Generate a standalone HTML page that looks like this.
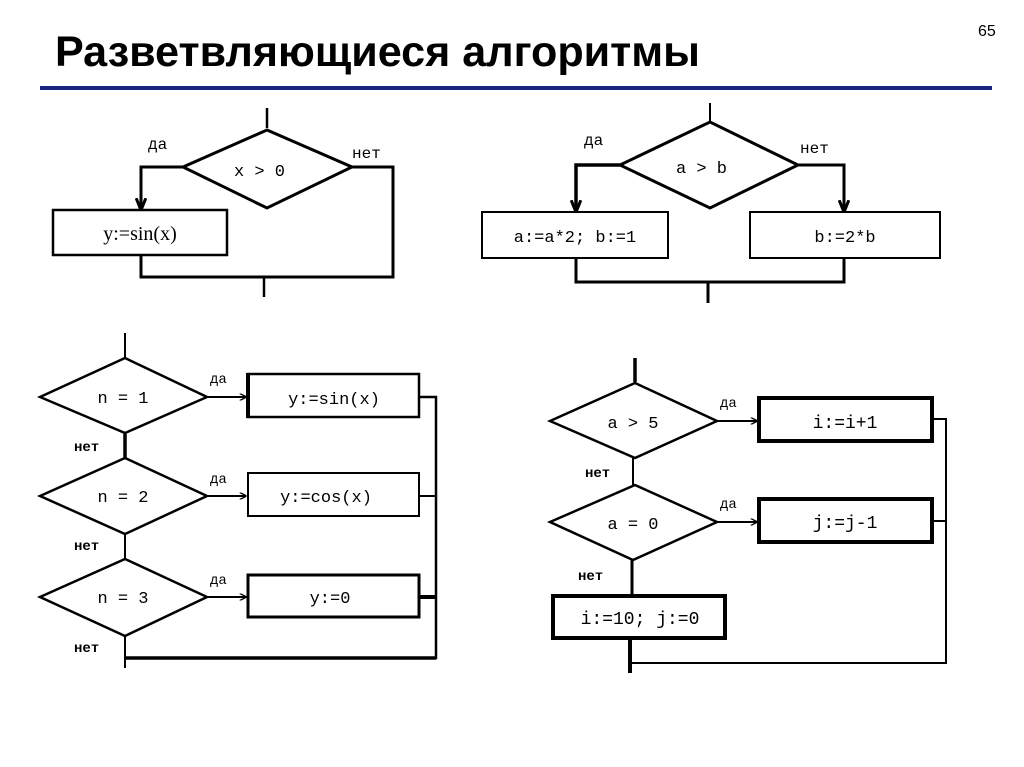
<!DOCTYPE html>
<html><head><meta charset="utf-8"><style>
html,body{margin:0;padding:0;background:#fff;}
svg{display:block;}
text{font-family:"Liberation Mono",monospace;fill:#000;}
</style></head><body>
<svg width="1024" height="767" viewBox="0 0 1024 767" xmlns="http://www.w3.org/2000/svg">
<defs>
<marker id="ar" viewBox="0 0 10 10" refX="9" refY="5" markerWidth="7" markerHeight="7" orient="auto" markerUnits="userSpaceOnUse">
<path d="M0,0 L10,5 L0,10" fill="none" stroke="#000" stroke-width="2"/>
</marker>
<marker id="ar2" viewBox="0 0 10 10" refX="9" refY="5" markerWidth="12" markerHeight="12" orient="auto" markerUnits="userSpaceOnUse">
<path d="M0,1 L10,5 L0,9" fill="none" stroke="#000" stroke-width="2.5"/>
</marker>
</defs>
<g transform="translate(55,66) scale(1,1.25)">
<text x="0" y="0" style="font-family:'Liberation Sans',sans-serif;font-weight:bold;font-size:34px" textLength="645" lengthAdjust="spacingAndGlyphs">Разветвляющиеся  алгоритмы</text>
</g>
<text x="978" y="36" style="font-family:'Liberation Sans',sans-serif;font-size:16px">65</text>
<rect x="40" y="86" width="952" height="4" fill="#1a237e"/>

<g stroke="#000" fill="none" stroke-width="2.5">
<line x1="267" y1="108" x2="267" y2="128"/>
<polygon points="183,167 267,130 352,167 267,208" stroke-width="3"/>
<polyline points="183,167 141,167 141,209" stroke-width="3" marker-end="url(#ar2)"/>
<rect x="53" y="210" width="174" height="45"/>
<polyline points="352,167 393,167 393,277 141,277 141,255" stroke-width="3"/>
<line x1="264" y1="277" x2="264" y2="297"/>

<line x1="710" y1="103" x2="710" y2="122" stroke-width="2"/>
<polygon points="620,165 710,122 798,165 710,208" stroke-width="3"/>
<polyline points="620,165 576,165 576,211" stroke-width="3.5" marker-end="url(#ar2)"/>
<polyline points="798,165 844,165 844,211" stroke-width="3" marker-end="url(#ar2)"/>
<rect x="482" y="212" width="186" height="46" stroke-width="2"/>
<rect x="750" y="212" width="190" height="46" stroke-width="2"/>
<polyline points="576,258 576,282 844,282 844,258" stroke-width="3"/>
<line x1="708" y1="282" x2="708" y2="303" stroke-width="3"/>

<line x1="125" y1="333" x2="125" y2="358" stroke-width="2"/>
<polygon points="40,397 125,358 207,397 125,433" stroke-width="2.5"/>
<line x1="125" y1="433" x2="125" y2="458" stroke-width="3.5"/>
<polygon points="40,496 125,458 207,496 125,534" stroke-width="2.5"/>
<line x1="125" y1="534" x2="125" y2="559" stroke-width="2"/>
<polygon points="40,597 125,559 207,597 125,636" stroke-width="2.5"/>
<line x1="125" y1="636" x2="125" y2="668" stroke-width="2"/>
<line x1="207" y1="397" x2="246" y2="397" stroke-width="2" marker-end="url(#ar)"/>
<line x1="207" y1="496" x2="246" y2="496" stroke-width="2" marker-end="url(#ar)"/>
<line x1="207" y1="597" x2="246" y2="597" stroke-width="2" marker-end="url(#ar)"/>
<rect x="248" y="374" width="171" height="43" stroke-width="2.5"/>
<line x1="248" y1="373" x2="248" y2="418" stroke-width="4"/>
<rect x="248" y="473" width="171" height="43" stroke-width="2"/>
<rect x="248" y="575" width="171" height="42" stroke-width="3"/>
<polyline points="419,397 436,397 436,658 125,658" stroke-width="2.5"/>
<line x1="419" y1="496" x2="436" y2="496" stroke-width="2"/>
<line x1="419" y1="597" x2="436" y2="597" stroke-width="4"/>
<line x1="125" y1="658" x2="436" y2="658" stroke-width="3.5"/>

<line x1="635" y1="358" x2="635" y2="382" stroke-width="3.5"/>
<polygon points="550,421 635,383 717,421 635,458" stroke-width="2.5"/>
<line x1="633" y1="458" x2="633" y2="485" stroke-width="2"/>
<polygon points="550,522 635,485 717,522 633,560" stroke-width="2.5"/>
<line x1="632" y1="560" x2="632" y2="595" stroke-width="3"/>
<line x1="717" y1="421" x2="757" y2="421" stroke-width="2" marker-end="url(#ar)"/>
<line x1="717" y1="522" x2="757" y2="522" stroke-width="2" marker-end="url(#ar)"/>
<rect x="759" y="398" width="173" height="43" stroke-width="4"/>
<rect x="759" y="499" width="173" height="43" stroke-width="4"/>
<rect x="553" y="596" width="172" height="42" stroke-width="4"/>
<polyline points="932,419 946,419 946,663 630,663" stroke-width="2"/>
<line x1="932" y1="521" x2="946" y2="521" stroke-width="2"/>
<line x1="630" y1="638" x2="630" y2="673" stroke-width="4"/>
</g>

<g font-size="16">
<text x="148" y="149">да</text>
<text x="352" y="158">нет</text>
<text x="234" y="176" font-size="17">x &gt; 0</text>
<text x="140" y="240" text-anchor="middle" style="font-family:'Liberation Serif',serif;font-size:20px">y:=sin(x)</text>

<text x="584" y="145">да</text>
<text x="800" y="153">нет</text>
<text x="676" y="173" font-size="17">a &gt; b</text>
<text x="575" y="242" text-anchor="middle" font-size="17">a:=a*2; b:=1</text>
<text x="845" y="242" text-anchor="middle" font-size="17">b:=2*b</text>

<text x="123" y="403" text-anchor="middle" font-size="17">n = 1</text>
<text x="123" y="502" text-anchor="middle" font-size="17">n = 2</text>
<text x="123" y="603" text-anchor="middle" font-size="17">n = 3</text>
<text x="210" y="383" font-size="14">да</text>
<text x="210" y="483" font-size="14">да</text>
<text x="210" y="584" font-size="14">да</text>
<text x="74" y="451" font-size="14" font-weight="bold">нет</text>
<text x="74" y="550" font-size="14" font-weight="bold">нет</text>
<text x="74" y="652" font-size="14" font-weight="bold">нет</text>
<text x="334" y="404" text-anchor="middle" font-size="17">y:=sin(x)</text>
<text x="326" y="502" text-anchor="middle" font-size="17">y:=cos(x)</text>
<text x="330" y="603" text-anchor="middle" font-size="17">y:=0</text>

<text x="633" y="428" text-anchor="middle" font-size="17">a &gt; 5</text>
<text x="633" y="529" text-anchor="middle" font-size="17">a = 0</text>
<text x="720" y="407" font-size="14">да</text>
<text x="720" y="508" font-size="14">да</text>
<text x="585" y="477" font-size="14" font-weight="bold">нет</text>
<text x="578" y="580" font-size="14" font-weight="bold">нет</text>
<text x="845" y="428" text-anchor="middle" font-size="18">i:=i+1</text>
<text x="845" y="528" text-anchor="middle" font-size="18">j:=j-1</text>
<text x="640" y="624" text-anchor="middle" font-size="18">i:=10; j:=0</text>
</g>
</svg>
</body></html>
